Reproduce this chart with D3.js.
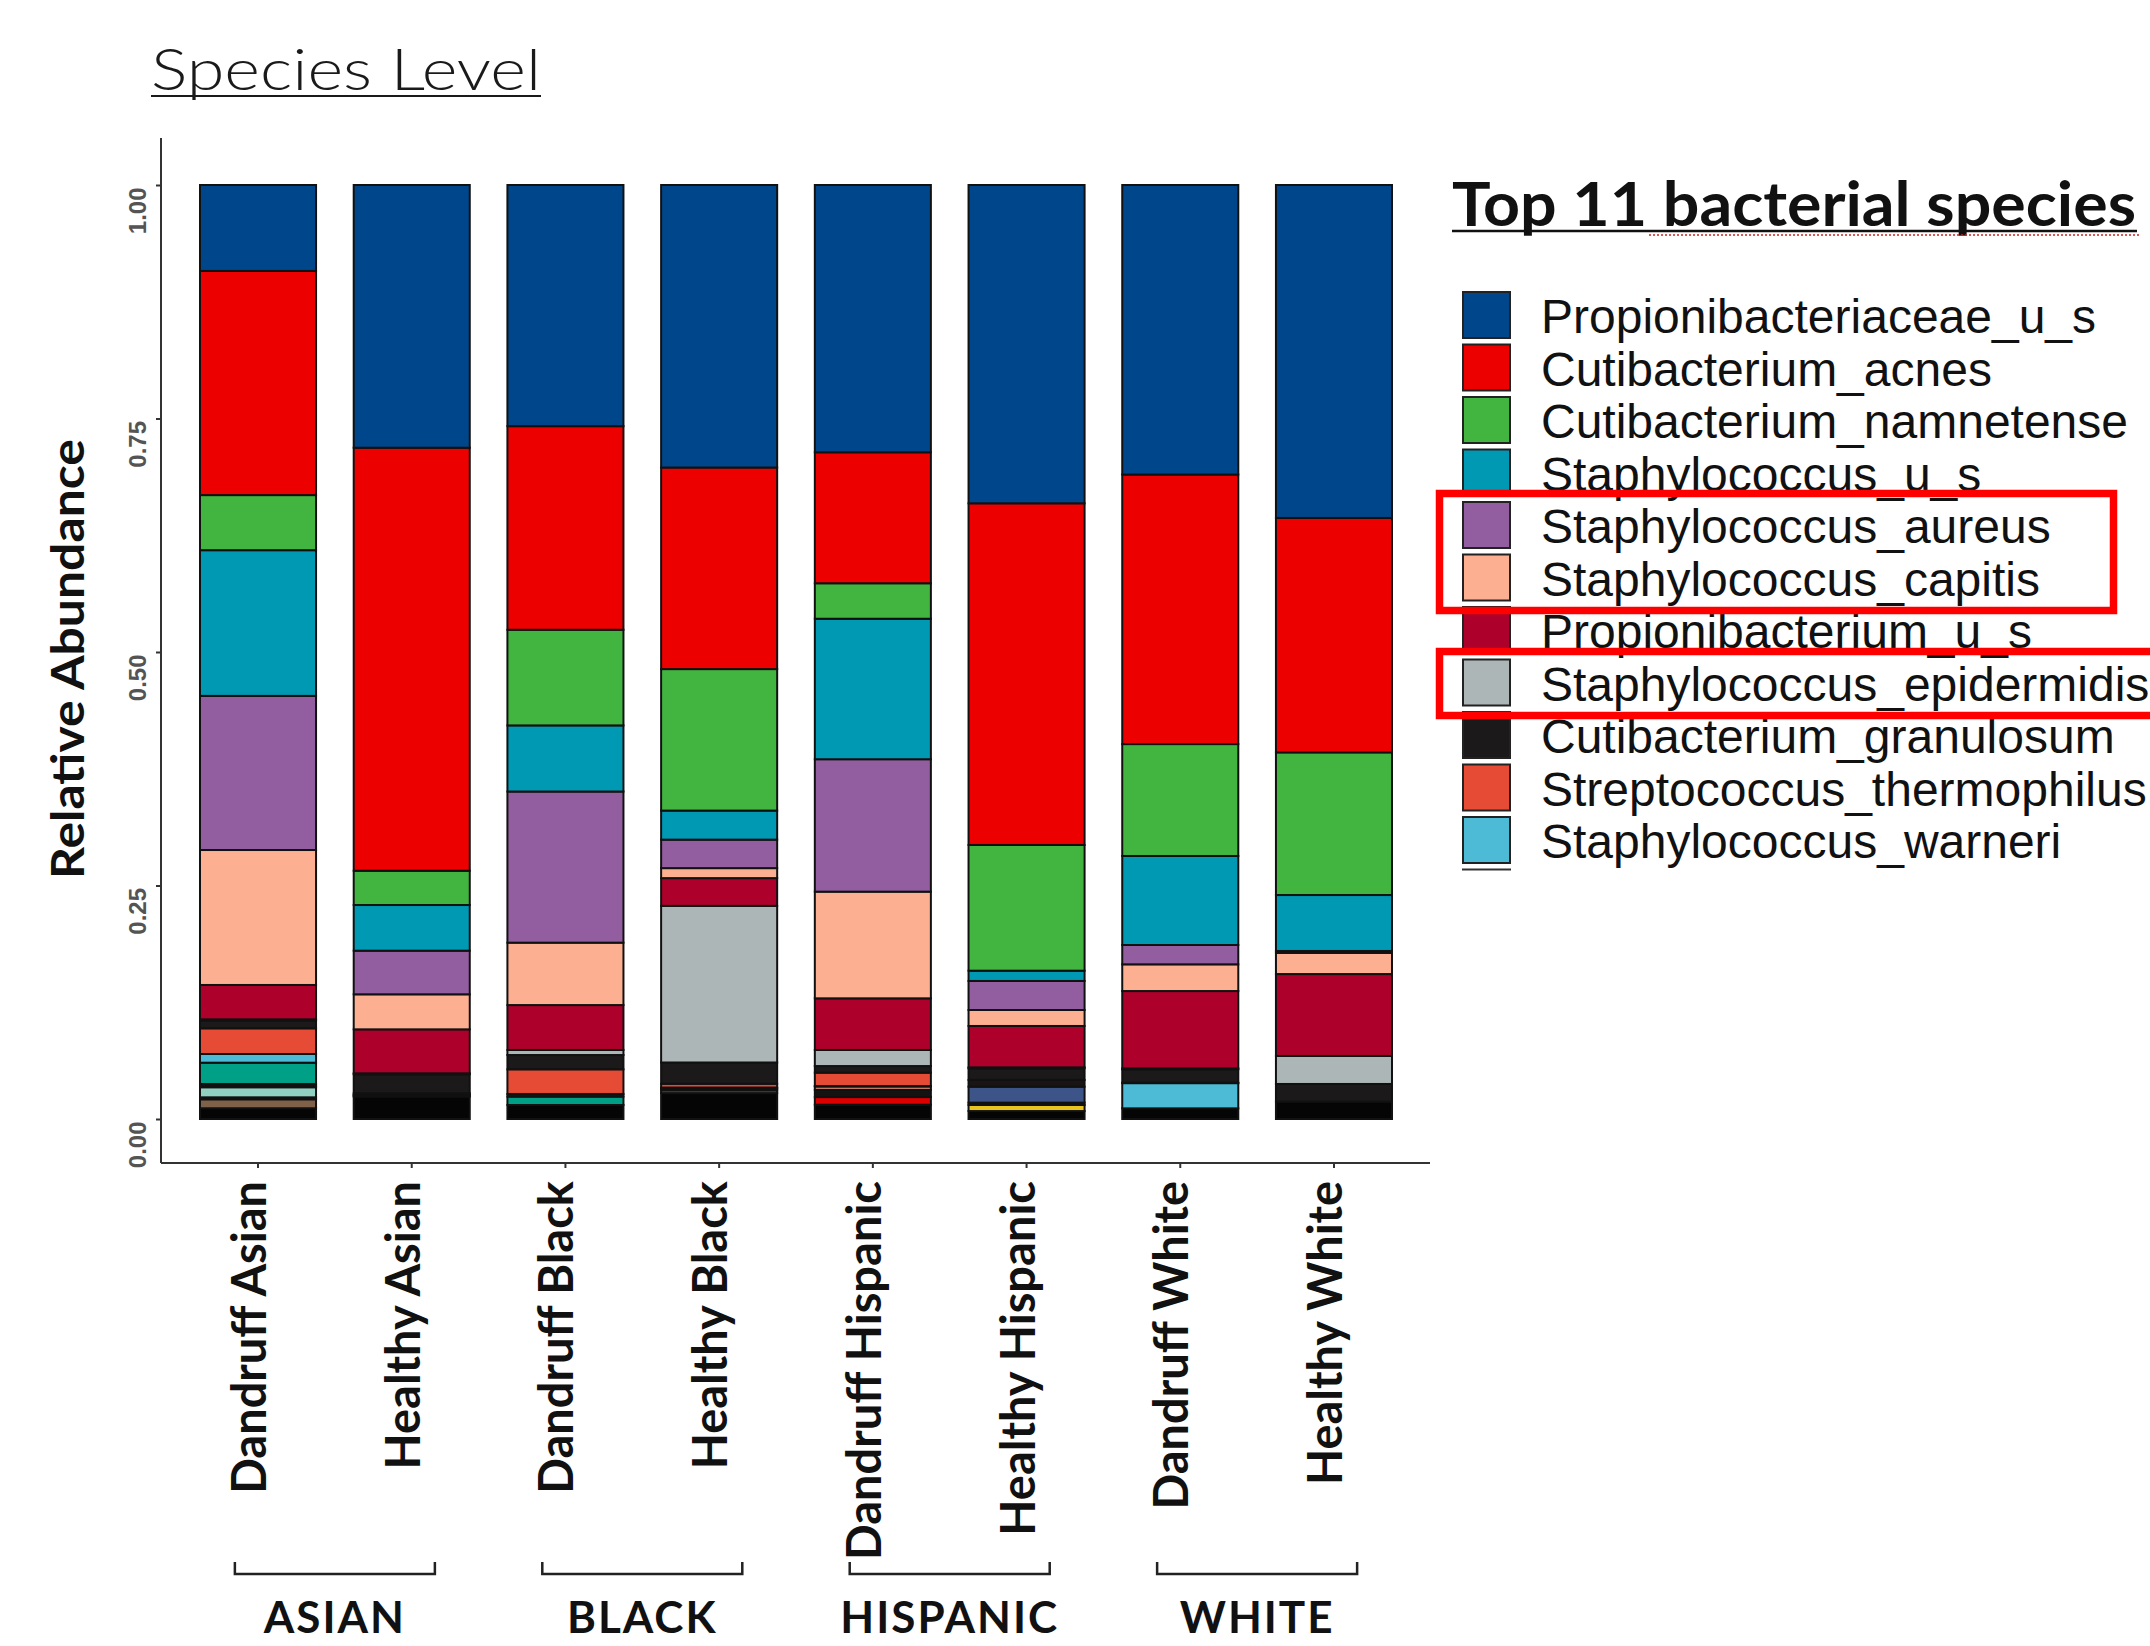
<!DOCTYPE html>
<html>
<head>
<meta charset="utf-8">
<script src="https://cdn.jsdelivr.net/npm/d3@7"></script>
<style>
  html, body { margin: 0; padding: 0; background: #fff; }
  svg { display: block; }
</style>
</head>
<body>
<div id="chart"></div>
<script>
// ---- data -------------------------------------------------------------
const categories = ["Dandruff Asian", "Healthy Asian", "Dandruff Black", "Healthy Black",
                    "Dandruff Hispanic", "Healthy Hispanic", "Dandruff White", "Healthy White"];
const groups = ["ASIAN", "BLACK", "HISPANIC", "WHITE"];
const yTicks = [0, 0.25, 0.5, 0.75, 1];

// Top 11 species (legend order = stacking order from the top of each bar)
const legendSpecies = ["Propionibacteriaceae_u_s", "Cutibacterium_acnes", "Cutibacterium_namnetense",
  "Staphylococcus_u_s", "Staphylococcus_aureus", "Staphylococcus_capitis", "Propionibacterium_u_s",
  "Staphylococcus_epidermidis", "Cutibacterium_granulosum", "Streptococcus_thermophilus",
  "Staphylococcus_warneri"];
const legendColors = ["#00468B", "#ED0000", "#42B540", "#0099B4", "#925E9F", "#FDAF91",
  "#AD002A", "#ADB6B6", "#1B1919", "#E64B35", "#4DBBD5"];

// relative abundance per sample, same order as categories
const propionibacteriaceae_u_s   = [0.0920, 0.2813, 0.2582, 0.3025, 0.2862, 0.3408, 0.3100, 0.3565];
const cutibacterium_acnes        = [0.2400, 0.4529, 0.2180, 0.2158, 0.1402, 0.3658, 0.2886, 0.2510];
const cutibacterium_namnetense   = [0.0590, 0.0367, 0.1024, 0.1515, 0.0380, 0.1346, 0.1198, 0.1527];
const staphylococcus_u_s         = [0.1560, 0.0489, 0.0708, 0.0311, 0.1504, 0.0110, 0.0953, 0.0599];
const staphylococcus_aureus      = [0.1650, 0.0467, 0.1618, 0.0305, 0.1418, 0.0311, 0.0207, 0.0020];
const staphylococcus_capitis     = [0.1445, 0.0375, 0.0668, 0.0107, 0.1142, 0.0171, 0.0286, 0.0227];
const propionibacterium_u_s      = [0.0368, 0.0471, 0.0481, 0.0297, 0.0553, 0.0443, 0.0828, 0.0877];
const staphylococcus_epidermidis = [0.0010, 0.0010, 0.0054, 0.1677, 0.0172, 0.0010, 0.0010, 0.0300];
const cutibacterium_granulosum   = [0.0086, 0.0204, 0.0153, 0.0228, 0.0071, 0.0125, 0.0143, 0.0189];
const streptococcus_thermophilus = [0.0275, 0.0015, 0.0264, 0.0040, 0.0143, 0.0000, 0.0005, 0.0000];
const staphylococcus_warneri     = [0.0093, 0.0010, 0.0000, 0.0010, 0.0005, 0.0000, 0.0270, 0.0000];

// lower-abundance taxa outside the top 11 (stacked below them)
const minorDarkA  = [0.0000, 0.0000, 0.0028, 0.0000, 0.0000, 0.0072, 0.0000, 0.0000];
const minorTeal   = [0.0228, 0.0010, 0.0090, 0.0000, 0.0000, 0.0000, 0.0000, 0.0000];
const minorSteel  = [0.0020, 0.0000, 0.0000, 0.0020, 0.0000, 0.0171, 0.0000, 0.0000];
const minorSalmon = [0.0015, 0.0000, 0.0000, 0.0000, 0.0035, 0.0000, 0.0000, 0.0000];
const minorAqua   = [0.0108, 0.0000, 0.0000, 0.0000, 0.0000, 0.0000, 0.0000, 0.0000];
const minorDarkB  = [0.0000, 0.0000, 0.0000, 0.0000, 0.0078, 0.0025, 0.0000, 0.0000];
const minorRed    = [0.0021, 0.0000, 0.0000, 0.0000, 0.0082, 0.0000, 0.0000, 0.0000];
const minorBrown  = [0.0096, 0.0000, 0.0000, 0.0030, 0.0000, 0.0000, 0.0000, 0.0000];
const minorYellow = [0.0000, 0.0000, 0.0000, 0.0000, 0.0000, 0.0065, 0.0000, 0.0000];
const remainder   = [0.0115, 0.0240, 0.0150, 0.0277, 0.0153, 0.0085, 0.0114, 0.0186];

const minorNames  = ["minorDarkA", "minorTeal", "minorSteel", "minorSalmon", "minorAqua",
                     "minorDarkB", "minorRed", "minorBrown", "minorYellow", "remainder"];
const minorColors = ["#1B1414", "#00A087", "#3C5488", "#F39B7F", "#91D1C2",
                     "#141212", "#DC0000", "#7E6148", "#E7C41F", "#050505"];

const seriesValues = {
  "Propionibacteriaceae_u_s": propionibacteriaceae_u_s,
  "Cutibacterium_acnes": cutibacterium_acnes,
  "Cutibacterium_namnetense": cutibacterium_namnetense,
  "Staphylococcus_u_s": staphylococcus_u_s,
  "Staphylococcus_aureus": staphylococcus_aureus,
  "Staphylococcus_capitis": staphylococcus_capitis,
  "Propionibacterium_u_s": propionibacterium_u_s,
  "Staphylococcus_epidermidis": staphylococcus_epidermidis,
  "Cutibacterium_granulosum": cutibacterium_granulosum,
  "Streptococcus_thermophilus": streptococcus_thermophilus,
  "Staphylococcus_warneri": staphylococcus_warneri,
  minorDarkA, minorTeal, minorSteel, minorSalmon, minorAqua,
  minorDarkB, minorRed, minorBrown, minorYellow, remainder
};

// ---- build table & stack ---------------------------------------------
const topDown = legendSpecies.concat(minorNames);
const colorScale = d3.scaleOrdinal().domain(topDown).range(legendColors.concat(minorColors));
const table = categories.map((c, i) => {
  const row = { category: c };
  topDown.forEach(k => { row[k] = seriesValues[k][i]; });
  return row;
});
const stacked = d3.stack().keys(topDown.slice().reverse())(table);

// ---- canvas ----------------------------------------------------------
const W = 2150, H = 1646;
const svg = d3.select("#chart").append("svg")
  .attr("width", W).attr("height", H)
  .attr("viewBox", `0 0 ${W} ${H}`);
svg.append("rect").attr("width", W).attr("height", H).attr("fill", "#fff");

const x = d3.scaleBand().domain(categories).range([200, 1392]).paddingInner(0.245).paddingOuter(0);
const y = d3.scaleLinear().domain([0, 1]).range([1119, 185]);

const axisX0 = 161, axisY0 = 1163;

// title
svg.append("text")
  .attr("x", 151).attr("y", 90)
  .attr("font-family", "Lato, 'Open Sans', sans-serif")
  .attr("font-weight", 300)
  .attr("font-size", 58)
  .attr("textLength", 390).attr("lengthAdjust", "spacingAndGlyphs")
  .attr("fill", "#1a1a1a")
  .text("Species Level");
svg.append("line").attr("x1", 151).attr("x2", 541).attr("y1", 96).attr("y2", 96)
  .attr("stroke", "#1a1a1a").attr("stroke-width", 2);

// bars
const layer = svg.append("g").selectAll("g").data(stacked).join("g")
  .attr("fill", d => colorScale(d.key));
layer.selectAll("rect").data(d => d).join("rect")
  .attr("x", d => x(d.data.category))
  .attr("width", x.bandwidth())
  .attr("y", d => y(d[1]))
  .attr("height", d => Math.max(0, y(d[0]) - y(d[1])))
  .attr("stroke", "#111")
  .attr("stroke-width", 2);

// y axis
const gy = svg.append("g").attr("transform", `translate(${axisX0},0)`)
  .call(d3.axisLeft(y).tickValues(yTicks).tickFormat(d3.format(".2f")).tickSize(5));
gy.select(".domain").remove();
gy.selectAll(".tick line").attr("stroke", "#333").attr("stroke-width", 2);
gy.selectAll(".tick text")
  .attr("x", null).attr("dy", null)
  .attr("transform", "translate(-15,2) rotate(-90)")
  .attr("text-anchor", "end")
  .attr("font-family", "'Liberation Sans', Arial, sans-serif")
  .attr("font-weight", "bold")
  .attr("font-size", 24)
  .attr("fill", "#545454");
svg.append("line").attr("x1", axisX0).attr("x2", axisX0).attr("y1", 138).attr("y2", axisY0)
  .attr("stroke", "#333").attr("stroke-width", 2);

// y axis title
svg.append("text")
  .attr("transform", "translate(84,659) rotate(-90)")
  .attr("text-anchor", "middle")
  .attr("font-family", "Lato, 'Open Sans', sans-serif")
  .attr("font-weight", 700)
  .attr("font-size", 46)
  .attr("textLength", 440).attr("lengthAdjust", "spacingAndGlyphs")
  .attr("fill", "#111")
  .text("Relative Abundance");

// x axis
const gx = svg.append("g").attr("transform", `translate(0,${axisY0})`)
  .call(d3.axisBottom(x).tickSize(5));
gx.select(".domain").remove();
gx.selectAll(".tick line").attr("stroke", "#333").attr("stroke-width", 2);
gx.selectAll(".tick text")
  .attr("y", null).attr("dy", null)
  .attr("transform", "translate(8,18) rotate(-90)")
  .attr("text-anchor", "end")
  .attr("font-family", "Lato, 'Open Sans', sans-serif")
  .attr("font-weight", 700)
  .attr("font-size", 47)
  .attr("fill", "#111");
svg.append("line").attr("x1", axisX0).attr("x2", 1430).attr("y1", axisY0).attr("y2", axisY0)
  .attr("stroke", "#333").attr("stroke-width", 2);

// group brackets and labels
const gGroups = svg.append("g");
groups.forEach((g, i) => {
  const c1 = x(categories[2 * i]) + x.bandwidth() / 2;
  const c2 = x(categories[2 * i + 1]) + x.bandwidth() / 2;
  const mid = (c1 + c2) / 2;
  const half = 100, by = 1574;
  gGroups.append("path")
    .attr("d", `M${mid - half},${by - 12}V${by}H${mid + half}V${by - 12}`)
    .attr("fill", "none").attr("stroke", "#222").attr("stroke-width", 2.5);
  gGroups.append("text")
    .attr("x", mid).attr("y", 1633)
    .attr("text-anchor", "middle")
    .attr("font-family", "Lato, 'Open Sans', sans-serif")
    .attr("font-weight", 700)
    .attr("font-size", 44)
    .attr("letter-spacing", 2)
    .attr("fill", "#111")
    .text(g);
});

// legend
const lg = svg.append("g");
lg.append("text")
  .attr("x", 1452).attr("y", 226)
  .attr("font-family", "Lato, 'Open Sans', sans-serif")
  .attr("font-weight", 700)
  .attr("font-size", 62)
  .attr("textLength", 684).attr("lengthAdjust", "spacingAndGlyphs")
  .attr("fill", "#111")
  .text("Top 11 bacterial species");
lg.append("line").attr("x1", 1452).attr("x2", 2137).attr("y1", 231).attr("y2", 231)
  .attr("stroke", "#111").attr("stroke-width", 2.5);
lg.append("line").attr("x1", 1649).attr("x2", 2139).attr("y1", 235).attr("y2", 235)
  .attr("stroke", "#d02020").attr("stroke-width", 1.5).attr("stroke-dasharray", "2,2");

const keyTop = 291, keyStep = 52.5;
const rows = lg.selectAll("g.row").data(legendSpecies).join("g").attr("class", "row")
  .attr("transform", (d, i) => `translate(0,${keyTop + i * keyStep})`);
rows.append("rect")
  .attr("x", 1463).attr("y", 1).attr("width", 47).attr("height", 46)
  .attr("fill", d => colorScale(d))
  .attr("stroke", "#222").attr("stroke-width", 2);
rows.append("text")
  .attr("x", 1541).attr("y", 42)
  .attr("font-family", "'Liberation Sans', Arial, sans-serif")
  .attr("font-size", 48)
  .attr("fill", "#111")
  .text(d => d);
lg.append("line").attr("x1", 1462).attr("x2", 1511)
  .attr("y1", keyTop + legendSpecies.length * keyStep + 1)
  .attr("y2", keyTop + legendSpecies.length * keyStep + 1)
  .attr("stroke", "#333").attr("stroke-width", 2);

// highlight boxes around selected legend entries
const hl = svg.append("g").attr("fill", "none").attr("stroke", "#FF0000").attr("stroke-width", 7.5);
hl.append("rect").attr("x", 1439.5).attr("y", 493.5).attr("width", 674).attr("height", 117);
hl.append("rect").attr("x", 1439.5).attr("y", 651.5).attr("width", 760).attr("height", 64);
</script>
</body>
</html>
